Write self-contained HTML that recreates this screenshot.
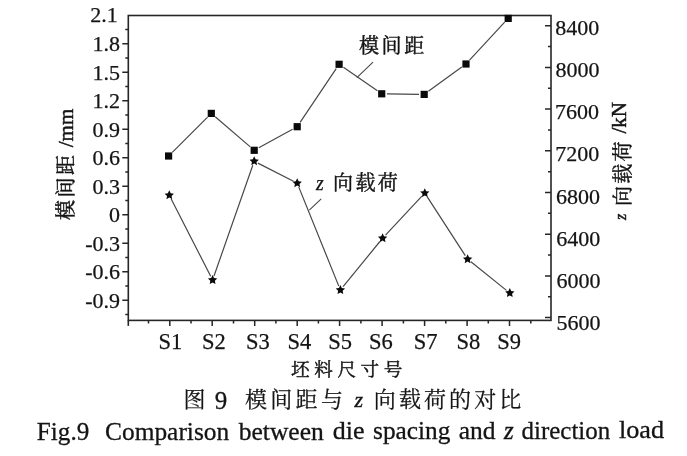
<!DOCTYPE html>
<html><head><meta charset="utf-8"><title>Fig.9</title>
<style>html,body{margin:0;padding:0;background:#fff;width:687px;height:456px;overflow:hidden}svg{display:block}</style>
</head><body>
<svg width="687" height="456" viewBox="0 0 687 456"><rect x="128.3" y="15.5" width="422.7" height="304.9" fill="none" stroke="#262626" stroke-width="1.6"/>
<line x1="128.3" y1="320.4" x2="128.3" y2="325.9" stroke="#262626" stroke-width="1.6"/>
<path d="M122.3 43.8H128.3 M122.3 72.3H128.3 M122.3 100.8H128.3 M122.3 129.3H128.3 M122.3 157.8H128.3 M122.3 186.3H128.3 M122.3 214.8H128.3 M122.3 243.3H128.3 M122.3 271.8H128.3 M122.3 300.3H128.3 M125.3 29.6H128.3 M125.3 58.1H128.3 M125.3 86.5H128.3 M125.3 115.0H128.3 M125.3 143.6H128.3 M125.3 172.1H128.3 M125.3 200.6H128.3 M125.3 229.1H128.3 M125.3 257.6H128.3 M125.3 286.1H128.3 M125.3 314.6H128.3 M545 25.7H551 M545 67.4H551 M545 109.1H551 M545 150.8H551 M545 192.5H551 M545 234.2H551 M545 275.9H551 M545 317.6H551 M548 46.5H551 M548 88.2H551 M548 129.9H551 M548 171.7H551 M548 213.3H551 M548 255.1H551 M548 296.8H551 M169.8 320.4V325.9 M212.2 320.4V325.9 M254.7 320.4V325.9 M297.2 320.4V325.9 M339.6 320.4V325.9 M382.1 320.4V325.9 M424.6 320.4V325.9 M467.1 320.4V325.9 M509.5 320.4V325.9 M148.5 320.4V323.4 M191.0 320.4V323.4 M233.5 320.4V323.4 M275.9 320.4V323.4 M318.4 320.4V323.4 M360.9 320.4V323.4 M403.4 320.4V323.4 M445.8 320.4V323.4 M488.3 320.4V323.4 M530.8 320.4V323.4" stroke="#262626" stroke-width="1.5" fill="none"/>
<path d="M172.3 152.3L207.6 117.1M215.2 116.8L250.3 146.9M258.8 147.8L292.6 129.2M300.1 122.4L336.2 68.6M343.4 67.3L377.4 90.8M386.9 93.9L419.0 94.3M428.4 91.3L461.8 67.1M469.5 60.2L504.7 22.2M171.2 198.9L210.7 276.3M214.0 276.0L252.8 165.2M257.9 163.1L293.5 181.3M298.8 187.1L338.8 286.1M343.1 286.7L379.9 241.5M385.5 235.1L421.9 196.2M427.1 196.6L465.3 255.7M470.9 261.8L506.5 290.4" fill="none" stroke="#484848" stroke-width="1.2"/>
<rect x="165.0" y="152.4" width="7.2" height="7.2" fill="#0a0a0a"/>
<rect x="207.7" y="109.8" width="7.2" height="7.2" fill="#0a0a0a"/>
<rect x="250.6" y="146.7" width="7.2" height="7.2" fill="#0a0a0a"/>
<rect x="293.6" y="123.1" width="7.2" height="7.2" fill="#0a0a0a"/>
<rect x="335.5" y="60.7" width="7.2" height="7.2" fill="#0a0a0a"/>
<rect x="378.1" y="90.2" width="7.2" height="7.2" fill="#0a0a0a"/>
<rect x="420.6" y="90.8" width="7.2" height="7.2" fill="#0a0a0a"/>
<rect x="462.4" y="60.4" width="7.2" height="7.2" fill="#0a0a0a"/>
<rect x="504.6" y="14.8" width="7.2" height="7.2" fill="#0a0a0a"/>
<polygon points="169.30,190.30 170.71,193.26 173.96,193.69 171.58,195.94 172.18,199.16 169.30,197.60 166.42,199.16 167.02,195.94 164.64,193.69 167.89,193.26" fill="#0a0a0a"/>
<polygon points="212.60,275.10 214.01,278.06 217.26,278.49 214.88,280.74 215.48,283.96 212.60,282.40 209.72,283.96 210.32,280.74 207.94,278.49 211.19,278.06" fill="#0a0a0a"/>
<polygon points="254.20,156.30 255.61,159.26 258.86,159.69 256.48,161.94 257.08,165.16 254.20,163.60 251.32,165.16 251.92,161.94 249.54,159.69 252.79,159.26" fill="#0a0a0a"/>
<polygon points="297.20,178.30 298.61,181.26 301.86,181.69 299.48,183.94 300.08,187.16 297.20,185.60 294.32,187.16 294.92,183.94 292.54,181.69 295.79,181.26" fill="#0a0a0a"/>
<polygon points="340.40,285.10 341.81,288.06 345.06,288.49 342.68,290.74 343.28,293.96 340.40,292.40 337.52,293.96 338.12,290.74 335.74,288.49 338.99,288.06" fill="#0a0a0a"/>
<polygon points="382.60,233.30 384.01,236.26 387.26,236.69 384.88,238.94 385.48,242.16 382.60,240.60 379.72,242.16 380.32,238.94 377.94,236.69 381.19,236.26" fill="#0a0a0a"/>
<polygon points="424.80,188.20 426.21,191.16 429.46,191.59 427.08,193.84 427.68,197.06 424.80,195.50 421.92,197.06 422.52,193.84 420.14,191.59 423.39,191.16" fill="#0a0a0a"/>
<polygon points="467.60,254.30 469.01,257.26 472.26,257.69 469.88,259.94 470.48,263.16 467.60,261.60 464.72,263.16 465.32,259.94 462.94,257.69 466.19,257.26" fill="#0a0a0a"/>
<polygon points="509.80,288.10 511.21,291.06 514.46,291.49 512.08,293.74 512.68,296.96 509.80,295.40 506.92,296.96 507.52,293.74 505.14,291.49 508.39,291.06" fill="#0a0a0a"/>
<path d="M373 62.2L356.9 77.6M321.2 198.8L309.3 210.1" stroke="#484848" stroke-width="1.1" fill="none"/>
<g fill="#141414" stroke="#141414" stroke-width="0.25" font-family="'Liberation Serif',serif" font-size="22">
<text x="117.8" y="22.3" text-anchor="end">2.1</text>
<text x="120" y="51.3" text-anchor="end">1.8</text>
<text x="120" y="79.8" text-anchor="end">1.5</text>
<text x="120" y="108.3" text-anchor="end">1.2</text>
<text x="120" y="136.8" text-anchor="end">0.9</text>
<text x="120" y="165.3" text-anchor="end">0.6</text>
<text x="120" y="193.8" text-anchor="end">0.3</text>
<text x="120" y="222.3" text-anchor="end">0</text>
<text x="120" y="250.8" text-anchor="end">-0.3</text>
<text x="120" y="279.3" text-anchor="end">-0.6</text>
<text x="120" y="307.8" text-anchor="end">-0.9</text>
<text x="555.3" y="34.5">8400</text>
<text x="555.5" y="76.8">8000</text>
<text x="555.1" y="119.0">7600</text>
<text x="555.3" y="161.3">7200</text>
<text x="556.1" y="203.6">6800</text>
<text x="556.3" y="245.9">6400</text>
<text x="556.5" y="288.1">6000</text>
<text x="556.4" y="330.4">5600</text>
<text x="158.4" y="349.3" font-size="22.5">S1</text>
<text x="201.9" y="349.3" font-size="22.5">S2</text>
<text x="246.1" y="349.3" font-size="22.5">S3</text>
<text x="287.4" y="349.3" font-size="22.5">S4</text>
<text x="328.2" y="349.3" font-size="22.5">S5</text>
<text x="368.9" y="349.3" font-size="22.5">S6</text>
<text x="413.8" y="349.3" font-size="22.5">S7</text>
<text x="456.6" y="349.3" font-size="22.5">S8</text>
<text x="497.3" y="349.3" font-size="22.5">S9</text>
</g>
<g fill="#141414" stroke="#141414" stroke-width="0.45">
<text x="291" y="375.8" font-size="18.6" letter-spacing="4.6" font-family="'Liberation Serif','Noto Serif CJK SC',serif">坯料尺寸号</text>
<text x="359" y="52.5" font-size="20" letter-spacing="2.6" font-family="'Liberation Serif','Noto Serif CJK SC',serif">模间距</text>
<text x="316" y="189.5" font-size="20" font-style="italic" stroke-width="0.25" font-family="'Liberation Serif',serif">z</text>
<text x="333" y="189.5" font-size="20" letter-spacing="2.4" font-family="'Liberation Serif','Noto Serif CJK SC',serif">向载荷</text>
<text transform="translate(73 220) rotate(-90)" font-size="20"><tspan letter-spacing="2.5" font-family="'Liberation Serif','Noto Serif CJK SC',serif">模间距</tspan><tspan font-family="'Liberation Serif',serif" font-size="21"> /mm</tspan></text>
<text transform="translate(626 220) rotate(-90)" font-size="16" font-family="'Liberation Serif',serif" font-style="italic">z</text>
<text transform="translate(630 206) rotate(-90)" font-size="20" letter-spacing="2.2" font-family="'Liberation Serif','Noto Serif CJK SC',serif">向载荷</text>
<text transform="translate(626 133.5) rotate(-90)" font-size="21" font-family="'Liberation Serif',serif">/kN</text>
<text x="183.5" y="407" font-size="22" font-family="'Liberation Serif','Noto Serif CJK SC',serif" stroke-width="0.25">图</text>
<text x="214.8" y="408.8" font-size="25" stroke-width="0.3" font-family="'Liberation Serif',serif">9</text>
<text x="245" y="407" font-size="22" letter-spacing="3.3" font-family="'Liberation Serif','Noto Serif CJK SC',serif" stroke-width="0.25">模间距与</text>
<text x="354.5" y="407" font-size="22" font-style="italic" font-family="'Liberation Serif',serif">z</text>
<text x="373.8" y="407" font-size="22" letter-spacing="3.1" font-family="'Liberation Serif','Noto Serif CJK SC',serif" stroke-width="0.25">向载荷的对比</text>
<text x="36.88" y="440.40" font-size="24.6" textLength="52.35" lengthAdjust="spacingAndGlyphs" stroke-width="0.3" font-family="'Liberation Serif',serif">Fig.9</text>
<text x="105.06" y="440.17" font-size="24.6" textLength="124.13" lengthAdjust="spacingAndGlyphs" stroke-width="0.3" font-family="'Liberation Serif',serif">Comparison</text>
<text x="238.70" y="439.73" font-size="24.6" textLength="85.09" lengthAdjust="spacingAndGlyphs" stroke-width="0.3" font-family="'Liberation Serif',serif">between</text>
<text x="332.76" y="439.41" font-size="24.6" textLength="31.74" lengthAdjust="spacingAndGlyphs" stroke-width="0.3" font-family="'Liberation Serif',serif">die</text>
<text x="373.06" y="439.27" font-size="24.6" textLength="77.32" lengthAdjust="spacingAndGlyphs" stroke-width="0.3" font-family="'Liberation Serif',serif">spacing</text>
<text x="458.80" y="438.98" font-size="24.6" textLength="36.81" lengthAdjust="spacingAndGlyphs" stroke-width="0.3" font-family="'Liberation Serif',serif">and</text>
<text x="521.60" y="438.77" font-size="24.6" textLength="88.58" lengthAdjust="spacingAndGlyphs" stroke-width="0.3" font-family="'Liberation Serif',serif">direction</text>
<text x="618.98" y="438.45" font-size="24.6" textLength="45.15" lengthAdjust="spacingAndGlyphs" stroke-width="0.3" font-family="'Liberation Serif',serif">load</text>
<text x="504" y="438.83" font-size="24.6" font-style="italic" font-family="'Liberation Serif',serif">z</text>
</g></svg>
</body></html>
